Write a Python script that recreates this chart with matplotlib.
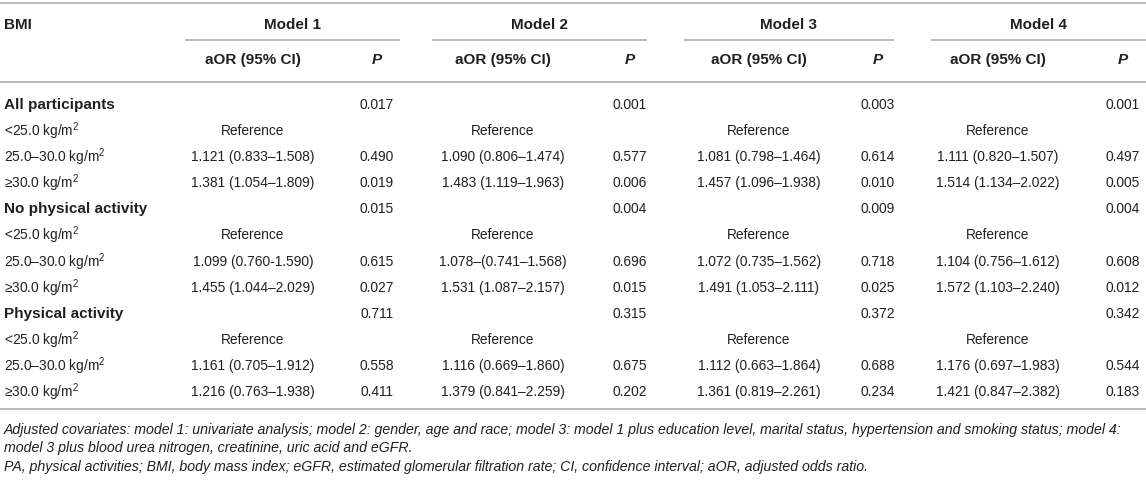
import matplotlib.pyplot as plt

plt.rcParams['font.family'] = ['Liberation Sans', 'DejaVu Sans']
plt.rcParams['mathtext.fontset'] = 'custom'
plt.rcParams['mathtext.rm'] = 'Liberation Sans'
plt.rcParams['mathtext.it'] = 'Liberation Sans:italic'
plt.rcParams['mathtext.bf'] = 'Liberation Sans:bold'

# table content
row_labels = ['All participants', '<25.0 kg/m$^2$', '25.0–30.0 kg/m$^2$', '≥30.0 kg/m$^2$',
              'No physical activity', '<25.0 kg/m$^2$', '25.0–30.0 kg/m$^2$', '≥30.0 kg/m$^2$',
              'Physical activity', '<25.0 kg/m$^2$', '25.0–30.0 kg/m$^2$', '≥30.0 kg/m$^2$']
group_rows = [0, 4, 8]
models = ['Model 1', 'Model 2', 'Model 3', 'Model 4']

aor_m1 = ['', 'Reference', '1.121 (0.833–1.508)', '1.381 (1.054–1.809)',
          '', 'Reference', '1.099 (0.760-1.590)', '1.455 (1.044–2.029)',
          '', 'Reference', '1.161 (0.705–1.912)', '1.216 (0.763–1.938)']
p_m1 = ['0.017', '', '0.490', '0.019', '0.015', '', '0.615', '0.027', '0.711', '', '0.558', '0.411']

aor_m2 = ['', 'Reference', '1.090 (0.806–1.474)', '1.483 (1.119–1.963)',
          '', 'Reference', '1.078–(0.741–1.568)', '1.531 (1.087–2.157)',
          '', 'Reference', '1.116 (0.669–1.860)', '1.379 (0.841–2.259)']
p_m2 = ['0.001', '', '0.577', '0.006', '0.004', '', '0.696', '0.015', '0.315', '', '0.675', '0.202']

aor_m3 = ['', 'Reference', '1.081 (0.798–1.464)', '1.457 (1.096–1.938)',
          '', 'Reference', '1.072 (0.735–1.562)', '1.491 (1.053–2.111)',
          '', 'Reference', '1.112 (0.663–1.864)', '1.361 (0.819–2.261)']
p_m3 = ['0.003', '', '0.614', '0.010', '0.009', '', '0.718', '0.025', '0.372', '', '0.688', '0.234']

aor_m4 = ['', 'Reference', '1.111 (0.820–1.507)', '1.514 (1.134–2.022)',
          '', 'Reference', '1.104 (0.756–1.612)', '1.572 (1.103–2.240)',
          '', 'Reference', '1.176 (0.697–1.983)', '1.421 (0.847–2.382)']
p_m4 = ['0.001', '', '0.497', '0.005', '0.004', '', '0.608', '0.012', '0.342', '', '0.544', '0.183']

footnotes = [
    'Adjusted covariates: model 1: univariate analysis; model 2: gender, age and race; model 3: model 1 plus '
    'education level, marital status, hypertension and smoking status; model 4:',
    'model 3 plus blood urea nitrogen, creatinine, uric acid and eGFR.',
    'PA, physical activities; BMI, body mass index; eGFR, estimated glomerular filtration rate; '
    'CI, confidence interval; aOR, adjusted odds ratio.',
]

aor_cols = [aor_m1, aor_m2, aor_m3, aor_m4]
p_cols = [p_m1, p_m2, p_m3, p_m4]

# layout in pixels
W, H = 1146, 485
span = [(185, 400), (432, 647), (684, 894), (931, 1146)]
aor_x = [253, 503, 759, 998]
p_x = [377, 630, 878, 1123]
row_y0, row_dy = 105, 26.1
txt = '#231f20'
rule = '#b5b5b5'
fs_reg = 9.9
fs_bold = 11.0

fig = plt.figure(figsize=(W / 100, H / 100), dpi=100)
ax = fig.add_axes([0, 0, 1, 1])
ax.set_xlim(0, W)
ax.set_ylim(H, 0)
ax.axis('off')

# rules
for y in [4, 83, 410]:
    ax.plot([0, W], [y, y], color=rule, lw=1.3, solid_capstyle='butt')
for x0, x1 in span:
    ax.plot([x0, x1], [41, 41], color=rule, lw=1.3, solid_capstyle='butt')

# header
ax.text(4, 25, 'BMI', fontsize=fs_bold, weight='bold', color=txt, va='center')
for (x0, x1), name in zip(span, models):
    ax.text((x0 + x1) / 2, 25, name, fontsize=fs_bold, weight='bold', color=txt,
            va='center', ha='center')
for xa, xp in zip(aor_x, p_x):
    ax.text(xa, 60, 'aOR (95% CI)', fontsize=fs_bold, weight='bold', color=txt,
            va='center', ha='center')
    ax.text(xp, 60, 'P', fontsize=fs_bold, weight='bold', style='italic', color=txt,
            va='center', ha='center')

# body
for i, lab in enumerate(row_labels):
    y = row_y0 + i * row_dy
    if i in group_rows:
        ax.text(4, y, lab, fontsize=fs_bold, weight='bold', color=txt, va='center')
    else:
        # baseline placement so the superscript does not shift the row
        ax.text(4, y + 5, lab, fontsize=fs_reg, color=txt, va='baseline')
    for k in range(4):
        ax.text(aor_x[k], y, aor_cols[k][i], fontsize=fs_reg, color=txt,
                va='center', ha='center')
        ax.text(p_x[k], y, p_cols[k][i], fontsize=fs_reg, color=txt,
                va='center', ha='center')

# footnotes
for j, note in enumerate(footnotes):
    ax.text(4, 430 + j * 18.5, note, fontsize=10.2, style='italic', color=txt, va='center')

plt.savefig('out.png', dpi=100)
